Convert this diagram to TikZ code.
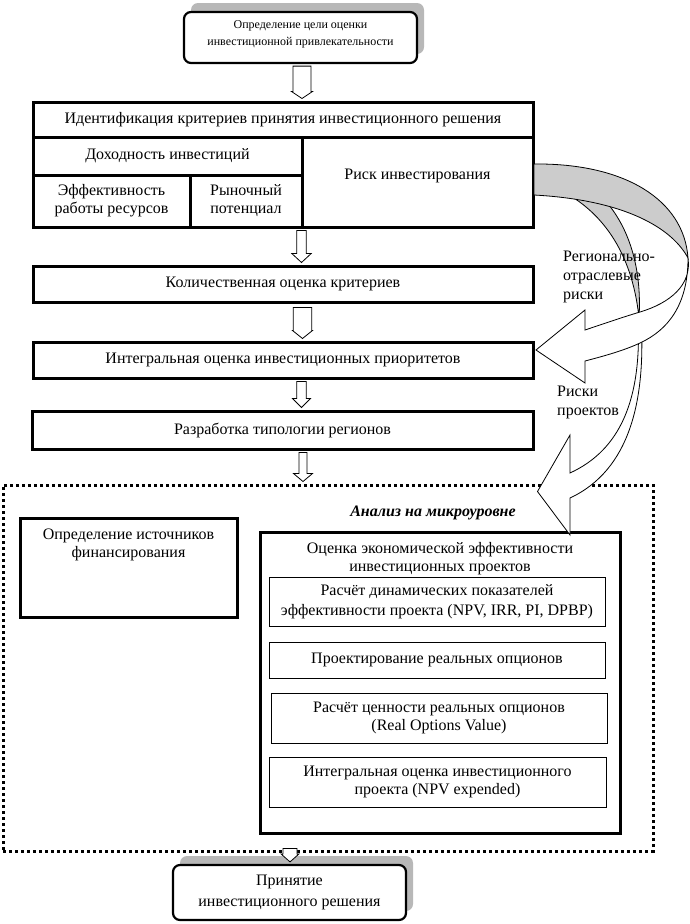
\documentclass[tikz,border=0pt]{standalone}
\usepackage{fontspec}
\setmainfont{Liberation Serif}
\usetikzlibrary{calc,shadows}
\newcommand\hollow[7]{%
  \draw[blk] let \p1=(#1.south), \p2=(#2.north) in
   ({#3pt-#4pt},{\y1-(#7pt)}) -- ({#3pt+#4pt},{\y1-(#7pt)}) -- ({#3pt+#4pt},{\y2+2pt+#6pt}) -- ({#3pt+#5pt},{\y2+2pt+#6pt}) -- ({#3pt},{\y2+2pt}) -- ({#3pt-#5pt},{\y2+2pt+#6pt}) -- ({#3pt-#4pt},{\y2+2pt+#6pt}) -- cycle;}
\tikzset{
 txt/.style={font=\fontsize{16}{18}\selectfont, align=center},
 cell/.style={draw, line width=3pt, fill=white, inner sep=0pt, txt},
 sub/.style={draw, line width=0.9pt, inner sep=0pt, txt},
 rbox/.style={draw, line width=2.2pt, rounded corners=7pt, fill=white, inner sep=0pt, drop shadow={shadow xshift=7pt, shadow yshift=9pt, fill=black!28, opacity=1}},
 dotbox/.style={draw, line width=3pt, dash pattern=on 3pt off 3pt, inner sep=0pt},
 blk/.style={draw, line width=0.8pt, fill=white, line join=miter},
 band/.style={draw, line width=0.8pt, fill=black!20},
 front/.style={draw, line width=0.8pt, fill=white},
 lbl/.style={font=\fontsize{16}{19}\selectfont, align=left, inner sep=0pt}
}
\begin{document}
\begin{tikzpicture}[x=1pt,y=-1pt]
\useasboundingbox (0,0) rectangle (690,924);
% dotted micro-level frame
\node[dotbox, minimum width=650, minimum height=366] (micro) at (328,668) {};
% top goal
\node[rbox, font=\fontsize{12}{17}\selectfont, align=center, minimum width=233, minimum height=51, text depth=9pt] (goal) at (300.5,37.5) {Определение цели оценки\\инвестиционной привлекательности};
% criteria block
\node[cell, minimum width=500, minimum height=35] (crit) at (283,119.5) {Идентификация критериев принятия инвестиционного решения};
\node[cell, minimum width=269, minimum height=38] (income) at (167.5,156) {Доходность инвестиций};
\node[cell, minimum width=231, minimum height=90, text depth=16pt] (risk) at (417.5,182) {Риск инвестирования};
\node[cell, minimum width=157, minimum height=52] (eff) at (111.5,201) {Эффективность\\работы ресурсов};
\node[cell, minimum width=112, minimum height=52] (mkt) at (246,201) {Рыночный\\потенциал};
\node[cell, minimum width=500, minimum height=36] (quant) at (283,284) {Количественная оценка критериев};
\node[cell, minimum width=500, minimum height=36] (integ) at (283,360) {Интегральная оценка инвестиционных приоритетов};
\node[cell, minimum width=501, minimum height=38] (typo) at (282.5,430) {Разработка типологии регионов};
% micro level content
\node[font=\fontsize{16}{18}\selectfont\bfseries\itshape, inner sep=0pt] (microt) at (433,513) {Анализ на микроуровне};
\node[cell, minimum width=217, minimum height=99] (src) at (128.5,567.5) {};
\node[txt, inner sep=0pt, anchor=north] (srct) at ($(src.north)+(0,12)$) {Определение источников\\финансирования};
\node[cell, minimum width=360, minimum height=301] (eval) at (440,682.5) {};
\node[txt, inner sep=0pt, anchor=north] (evalt) at ($(eval.north)+(0,11.5)$) {Оценка экономической эффективности\\инвестиционных проектов};
\node[sub, minimum width=336, minimum height=49, font=\fontsize{16}{20}\selectfont] (r1) at (437,601.5) {Расчёт динамических показателей\\эффективности проекта (NPV, IRR, PI, DPBP)};
\node[sub, minimum width=336, minimum height=36] (r2) at (437,660) {Проектирование реальных опционов};
\node[sub, minimum width=336, minimum height=50] (r3) at (439,718) {Расчёт ценности реальных опционов\\(Real Options Value)};
\node[sub, minimum width=337, minimum height=50] (r4) at (437.5,782) {Интегральная оценка инвестиционного\\проекта (NPV expended)};
% decision
\node[rbox, font=\fontsize{16}{21}\selectfont, align=center, minimum width=233, minimum height=55] (dec) at (289.5,892.5) {Принятие\\инвестиционного решения};
% hollow arrows
\hollow{goal}{crit}{302}{9}{10.5}{7}{2}
\hollow{risk}{quant}{301.5}{4.7}{9.7}{9}{2}
\hollow{quant}{integ}{302.5}{9.3}{10}{8}{4}
\hollow{integ}{typo}{301.5}{4.7}{9}{9}{2}
\hollow{typo}{micro}{303}{4}{9.5}{8}{2}
\hollow{micro}{dec}{290}{7}{9}{8}{-4}
% curved block arrows
\coordinate (tipA) at ($(integ.east)+(1.5,-10)$);
\coordinate (tipB) at ($(eval.north east)+(-84,-39)$);
% back of the second arrow (projects risks)
\path[band] (560,190) .. controls (600,210) and (632,250) .. (639,318) .. controls (642,270) and (630,225) .. (600,195) -- cycle;
% back of the first arrow (regional risks)
\path[band] (534,164) .. controls (625,163) and (684,200) .. (688,258) .. controls (672,228) and (625,200) .. (534,195) -- cycle;
% front of the second arrow
\path[front] (638,318) .. controls (642,400) and (620,450) .. (570,473) -- (570,435) -- (tipB) -- (570,535) -- (570,498) .. controls (630,470) and (646,400) .. (641,318) -- cycle;
% front of the first arrow
\path[front] (688,258) .. controls (692,285) and (670,303) .. (640,312) .. controls (620,318) and (600,325) .. (585,330) -- (585,310) -- (tipA) -- (585,383) -- (585,361) .. controls (608,355) and (625,350) .. (640,343) .. controls (668,330) and (688,305) .. (688,258) -- cycle;
% labels
\node[lbl, anchor=west] (lblA) at (563,277) {Регионально-\\отраслевые\\риски};
\node[lbl, anchor=west] (lblB) at (557,402) {Риски\\проектов};
\end{tikzpicture}
\end{document}
